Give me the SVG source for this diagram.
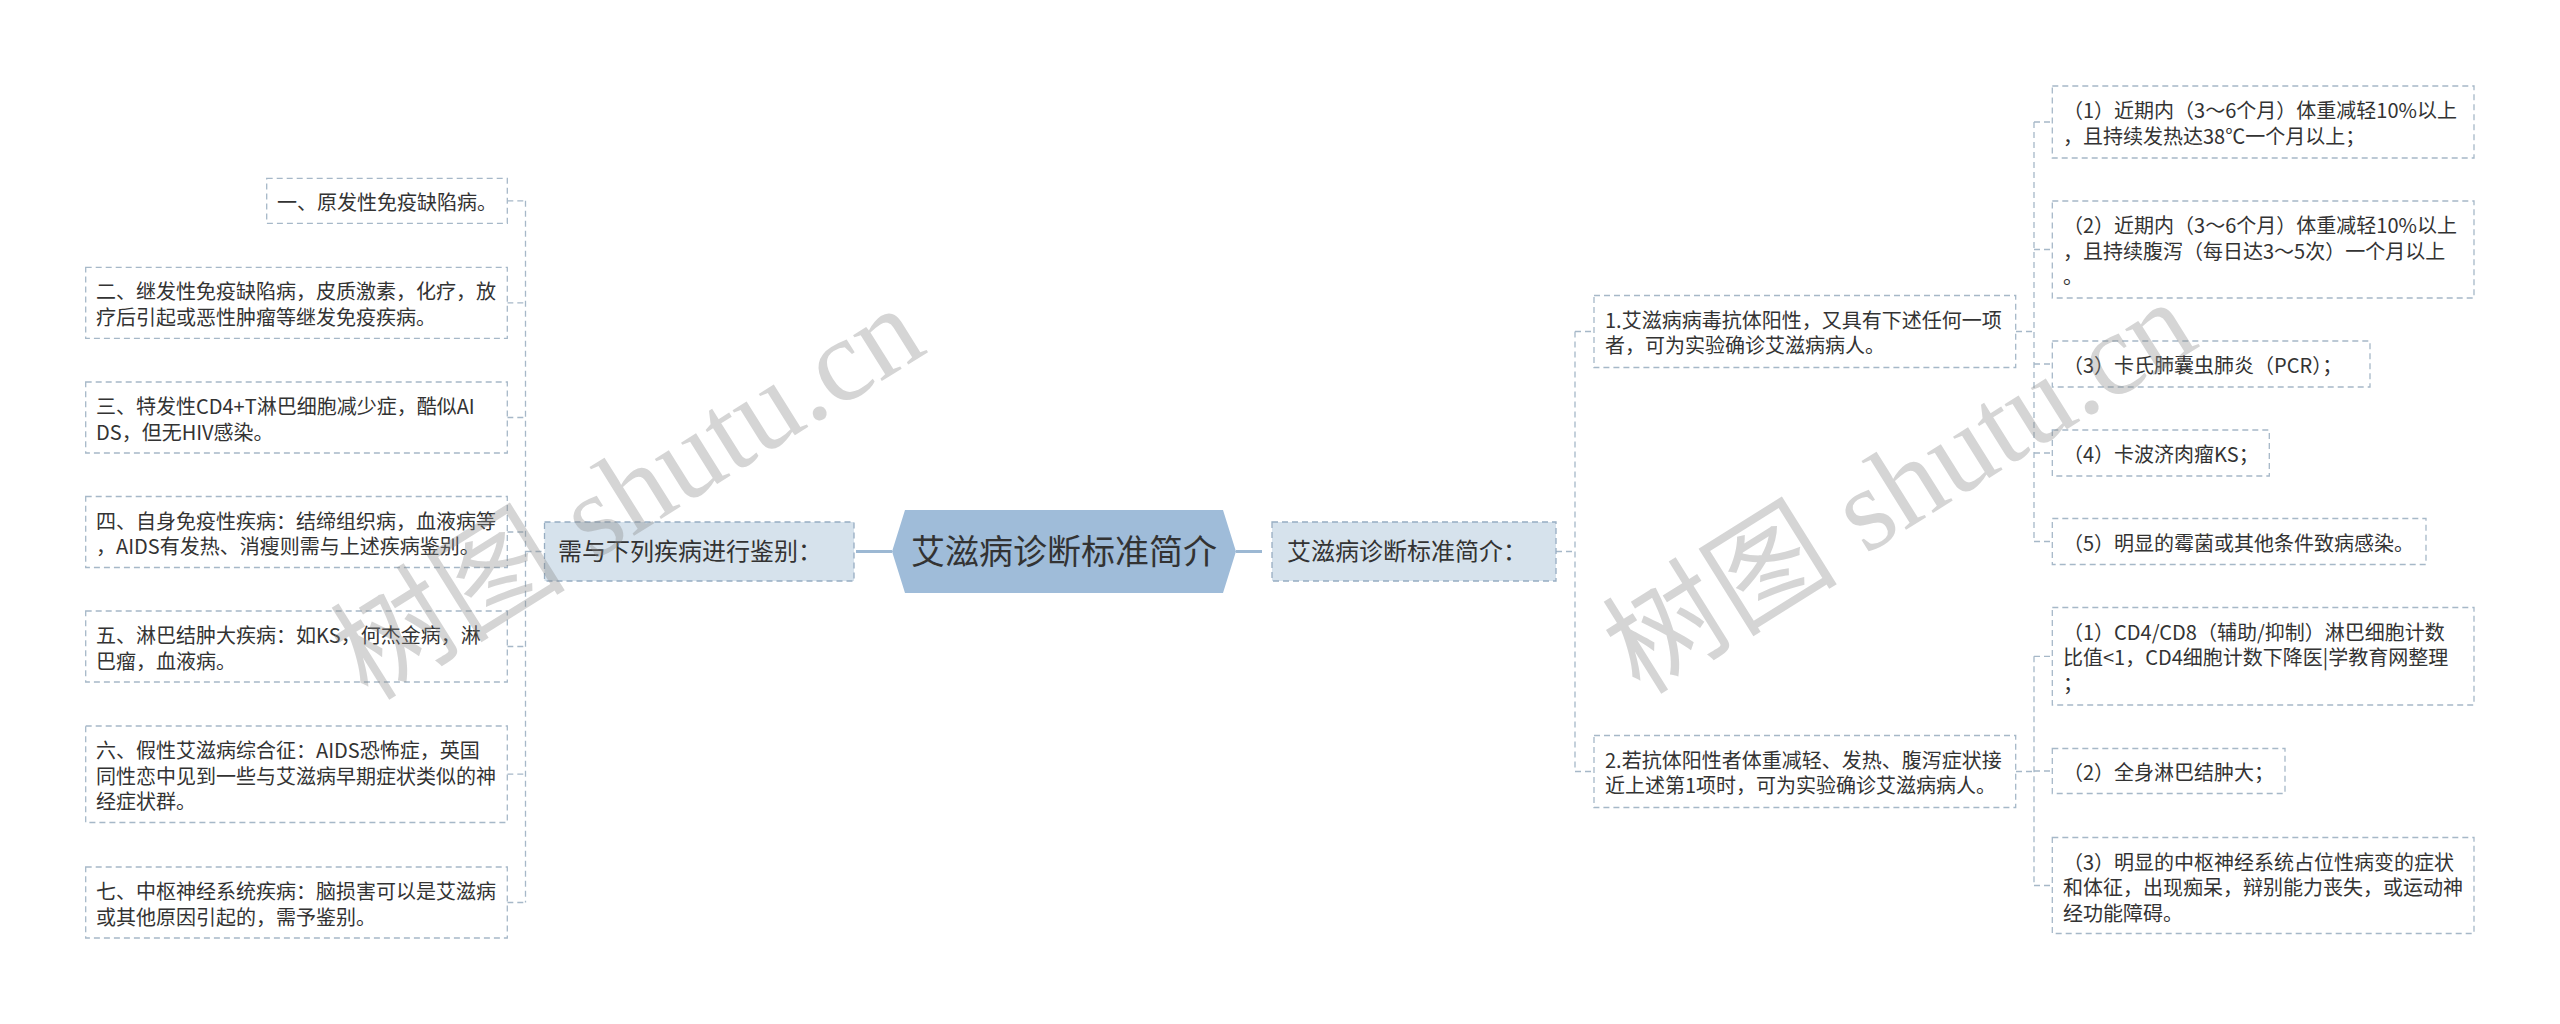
<svg xmlns="http://www.w3.org/2000/svg" width="2560" height="1024" viewBox="0 0 2560 1024">
<style>
.t{font-family:"Noto Sans CJK SC","Liberation Sans",sans-serif;fill:#333;font-size:20px}
.t24{font-size:24px}
.t34{font-size:34px}
.leaf{fill:#fff;stroke:#a6b8c8;stroke-width:1.3;stroke-dasharray:6 4}
.l1{fill:#d6e2ec;stroke:#97adc2;stroke-width:1.3;stroke-dasharray:6 4}
.root{fill:#9fbcd9;stroke:none}
.dash{fill:none;stroke:#a6b8c8;stroke-width:1.3;stroke-dasharray:6 4}
.solid{fill:none;stroke:#9cb8d3;stroke-width:3}
.wm{font-family:"Liberation Serif","Noto Sans CJK SC",serif;font-size:118px;fill:#888;opacity:0.35}
</style>
<rect width="2560" height="1024" fill="#fff"/>
<g id="connectors">
  <line class="solid" x1="856" y1="551.5" x2="892" y2="551.5"/>
  <line class="solid" x1="1236" y1="551.5" x2="1262" y2="551.5"/>
  <path class="dash" d="M525.5 200.8V902.5M507.3 200.8H525.5M507.3 302.8H525.5M507.3 417.5H525.5M507.3 532H525.5M507.3 646.5H525.5M507.3 774.2H525.5M507.3 902.5H525.5M525.5 551.5H544.5"/>
  <path class="dash" d="M1556 551.5H1575M1575 331.5V771.5M1575 331.5H1594M1575 771.5H1594"/>
  <path class="dash" d="M2016 331.5H2034M2034 122V541.5M2034 122H2052.3M2034 249.5H2052.3M2034 364H2052.3M2034 453H2052.3M2034 541.5H2052.3"/>
  <path class="dash" d="M2016 771.5H2034M2034 656.3V885.5M2034 656.3H2052.3M2034 771H2052.3M2034 885.5H2052.3"/>
</g>
<g id="root">
  <polygon class="root" points="892,551.5 905,510 1223,510 1236,551.5 1223,593 905,593"/>
  <text class="t t34" x="1064" y="564" text-anchor="middle">艾滋病诊断标准简介</text>
</g>
<g id="left-main">
  <rect class="l1" x="544.5" y="522" width="309.5" height="59"/>
  <text class="t t24" x="558" y="560">需与下列疾病进行鉴别：</text>
</g>
<g id="right-main">
  <rect class="l1" x="1272" y="522" width="284" height="59"/>
  <text class="t t24" x="1287" y="560">艾滋病诊断标准简介：</text>
</g>
<g id="L1">
  <rect class="leaf" x="266.7" y="178.3" width="240.6" height="45"/>
  <text class="t" x="277" y="210">一、原发性免疫缺陷病。</text>
</g>
<g id="L2">
  <rect class="leaf" x="85.7" y="267.3" width="421.6" height="71"/>
  <text class="t" x="96" y="299.3">二、继发性免疫缺陷病，皮质激素，化疗，放</text>
  <text class="t" x="96" y="324.8">疗后引起或恶性肿瘤等继发免疫疾病。</text>
</g>
<g id="L3">
  <rect class="leaf" x="85.7" y="382" width="421.6" height="71"/>
  <text class="t" x="96" y="414">三、特发性CD4+T淋巴细胞减少症，酷似AI</text>
  <text class="t" x="96" y="439.5">DS，但无HIV感染。</text>
</g>
<g id="L4">
  <rect class="leaf" x="85.7" y="496.5" width="421.6" height="71"/>
  <text class="t" x="96" y="528.5">四、自身免疫性疾病：结缔组织病，血液病等</text>
  <text class="t" x="96" y="554">，AIDS有发热、消瘦则需与上述疾病鉴别。</text>
</g>
<g id="L5">
  <rect class="leaf" x="85.7" y="611" width="421.6" height="71"/>
  <text class="t" x="96" y="643">五、淋巴结肿大疾病：如KS，何杰金病，淋</text>
  <text class="t" x="96" y="668.5">巴瘤，血液病。</text>
</g>
<g id="L6">
  <rect class="leaf" x="85.7" y="726" width="421.6" height="96.5"/>
  <text class="t" x="96" y="758">六、假性艾滋病综合征：AIDS恐怖症，英国</text>
  <text class="t" x="96" y="783.5">同性恋中见到一些与艾滋病早期症状类似的神</text>
  <text class="t" x="96" y="809">经症状群。</text>
</g>
<g id="L7">
  <rect class="leaf" x="85.7" y="867" width="421.6" height="71"/>
  <text class="t" x="96" y="899">七、中枢神经系统疾病：脑损害可以是艾滋病</text>
  <text class="t" x="96" y="924.5">或其他原因引起的，需予鉴别。</text>
</g>
<g id="N1">
  <rect class="leaf" x="1594" y="295.5" width="421.7" height="72"/>
  <text class="t" x="1605" y="327.5">1.艾滋病病毒抗体阳性，又具有下述任何一项</text>
  <text class="t" x="1605" y="353">者，可为实验确诊艾滋病病人。</text>
</g>
<g id="N2">
  <rect class="leaf" x="1594" y="735.5" width="421.7" height="72"/>
  <text class="t" x="1605" y="767.5">2.若抗体阳性者体重减轻、发热、腹泻症状接</text>
  <text class="t" x="1605" y="793">近上述第1项时，可为实验确诊艾滋病病人。</text>
</g>
<g id="R1-1">
  <rect class="leaf" x="2052.3" y="86" width="421.7" height="72"/>
  <text class="t" x="2063" y="118">（1）近期内（3～6个月）体重减轻10%以上</text>
  <text class="t" x="2063" y="143.5">，且持续发热达38℃一个月以上；</text>
</g>
<g id="R1-2">
  <rect class="leaf" x="2052.3" y="201" width="421.7" height="97"/>
  <text class="t" x="2063" y="233">（2）近期内（3～6个月）体重减轻10%以上</text>
  <text class="t" x="2063" y="258.5">，且持续腹泻（每日达3～5次）一个月以上</text>
  <text class="t" x="2063" y="284">。</text>
</g>
<g id="R1-3">
  <rect class="leaf" x="2052.3" y="341" width="317.7" height="46"/>
  <text class="t" x="2063" y="373">（3）卡氏肺囊虫肺炎（PCR）；</text>
</g>
<g id="R1-4">
  <rect class="leaf" x="2052.3" y="430" width="217" height="46"/>
  <text class="t" x="2063" y="462">（4）卡波济肉瘤KS；</text>
</g>
<g id="R1-5">
  <rect class="leaf" x="2052.3" y="518.5" width="373.7" height="46"/>
  <text class="t" x="2063" y="550.5">（5）明显的霉菌或其他条件致病感染。</text>
</g>
<g id="R2-1">
  <rect class="leaf" x="2052.3" y="607.5" width="421.7" height="97.5"/>
  <text class="t" x="2063" y="639.5">（1）CD4/CD8（辅助/抑制）淋巴细胞计数</text>
  <text class="t" x="2063" y="665">比值&lt;1，CD4细胞计数下降医|学教育网整理</text>
  <text class="t" x="2063" y="690.5">；</text>
</g>
<g id="R2-2">
  <rect class="leaf" x="2052.3" y="748.5" width="232.7" height="45"/>
  <text class="t" x="2063" y="780">（2）全身淋巴结肿大；</text>
</g>
<g id="R2-3">
  <rect class="leaf" x="2052.3" y="837.5" width="421.7" height="96"/>
  <text class="t" x="2063" y="869.5">（3）明显的中枢神经系统占位性病变的症状</text>
  <text class="t" x="2063" y="895">和体征，出现痴呆，辩别能力丧失，或运动神</text>
  <text class="t" x="2063" y="920.5">经功能障碍。</text>
</g>
<g id="watermark">
  <text class="wm" transform="translate(368,702) rotate(-32)">树图 shutu.cn</text>
  <text class="wm" transform="translate(1640,696) rotate(-32)">树图 shutu.cn</text>
</g>
</svg>
